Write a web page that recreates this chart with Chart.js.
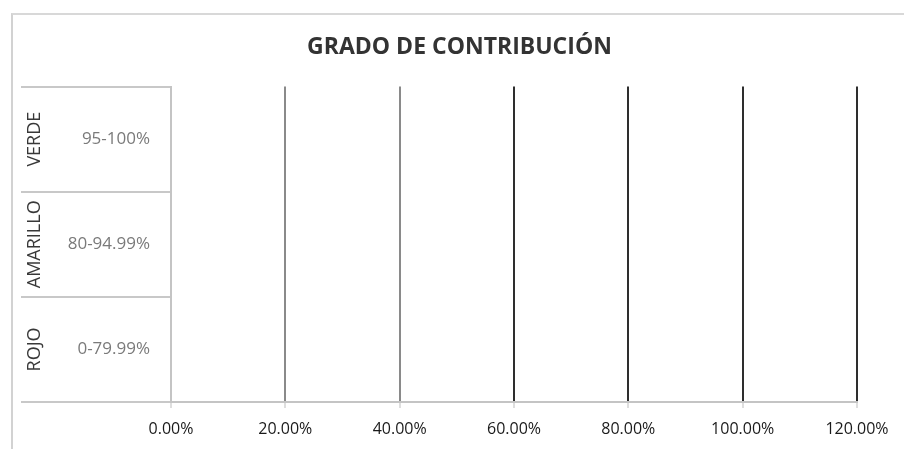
<!DOCTYPE html>
<html>
<head>
<meta charset="utf-8">
<script src="https://cdn.jsdelivr.net/npm/chart.js@4.4.1/dist/chart.umd.min.js"></script>
<style>
  html, body { margin: 0; padding: 0; background: #fff; }
  #wrap { position: relative; width: 904px; height: 449px; overflow: hidden; }
  #frame { position: absolute; left: 11px; top: 13px; width: 1000px; height: 600px;
           border-left: 2px solid #d2d2d2; border-top: 2px solid #d8d8d8; }
  canvas { position: absolute; left: 0; top: 0; }
</style>
</head>
<body>
<div id="wrap">
  <div id="frame"></div>
  <canvas id="grado" width="904" height="449"></canvas>
</div>
<script>
// Datos del gráfico
const categorias = ["95-100%", "80-94.99%", "0-79.99%"];
const grupos = ["VERDE", "AMARILLO", "ROJO"];
const valores = [null, null, null];   // no hay barras en la imagen
const ejeX = [0, 20, 40, 60, 80, 100, 120];
const etiquetasX = ["0.00%", "20.00%", "40.00%", "60.00%", "80.00%", "100.00%", "120.00%"];

const fuente = "'Open Sans', 'DejaVu Sans', sans-serif";

// dibuja VERDE / AMARILLO / ROJO en vertical a la izquierda
const gruposPlugin = {
    id: "grupos",
    afterDraw(chart) {
        const y = chart.scales.y;
        const ctx = chart.ctx;
        ctx.save();
        ctx.font = "18px " + fuente;
        ctx.fillStyle = "#383838";
        ctx.textAlign = "center";
        ctx.textBaseline = "middle";
        grupos.forEach((g, i) => {
            ctx.save();
            ctx.translate(35, y.getPixelForValue(i));
            ctx.rotate(-Math.PI / 2);
            ctx.fillText(g, 0, 0);
            ctx.restore();
        });
        ctx.restore();
    }
};

const ctx = document.getElementById("grado").getContext("2d");
new Chart(ctx, {
    type: "bar",
    data: {
        labels: categorias,
        datasets: [{
            label: "Grado",
            data: valores,
            backgroundColor: "#4472c4"
        }]
    },
    options: {
        indexAxis: "y",
        responsive: false,
        animation: false,
        layout: { padding: { left: 62, right: 47, top: 0, bottom: 0 } },
        plugins: {
            legend: { display: false },
            tooltip: { enabled: false },
            title: {
                display: true,
                text: "GRADO DE CONTRIBUCIÓN",
                color: "#333333",
                font: { family: fuente, size: 23, weight: "bold" },
                padding: { top: 34, bottom: 25 }
            }
        },
        scales: {
            x: {
                min: ejeX[0],
                max: ejeX[ejeX.length - 1],
                afterFit: s => { s.height = 47; },
                ticks: {
                    stepSize: 20,
                    color: "#1a1a1a",
                    font: { family: fuente, size: 16 },
                    padding: 12,
                    maxRotation: 0,
                    callback: (v, i) => etiquetasX[i]
                },
                grid: {
                    color: c => c.index === 0 ? "#c0c0c0" : (c.index <= 2 ? "#8a8a8a" : "#2e2e2e"),
                    lineWidth: 2,
                    tickLength: 6,
                    tickColor: "#bdbdbd",
                    tickWidth: 1
                },
                border: { color: "#c4c4c4", width: 2 }
            },
            y: {
                afterFit: s => { s.width = 109; },
                ticks: {
                    color: "#7a7a7a",
                    font: { family: fuente, size: 17 },
                    padding: -129
                },
                grid: {
                    offset: true,
                    drawOnChartArea: false,
                    tickLength: 150,
                    color: "#c8c8c8",
                    lineWidth: 2
                },
                border: { color: "#c4c4c4", width: 2 }
            }
        }
    },
    plugins: [gruposPlugin]
});
</script>
</body>
</html>
